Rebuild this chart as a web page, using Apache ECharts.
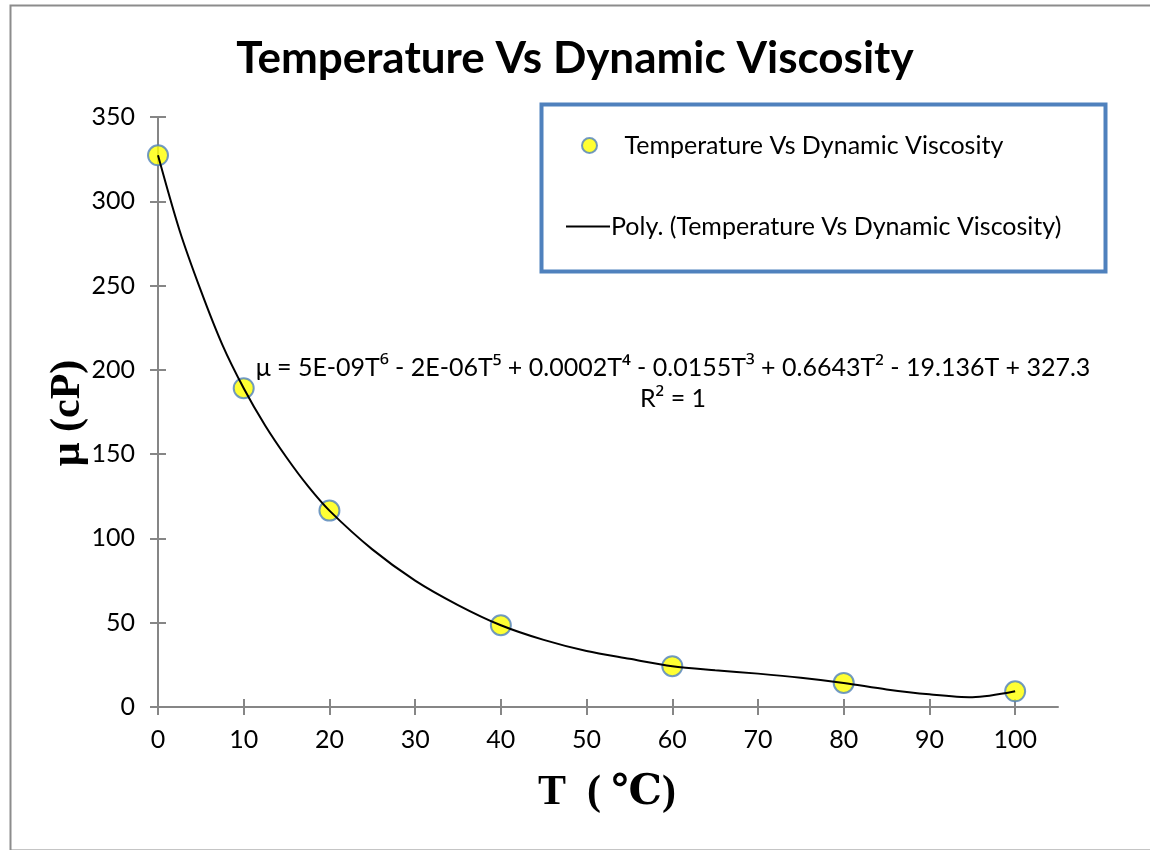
<!DOCTYPE html>
<html>
<head>
<meta charset="utf-8">
<script src="https://cdn.jsdelivr.net/npm/echarts@6/dist/echarts.min.js"></script>
<style>html,body{margin:0;padding:0;background:#fff}#c{width:1150px;height:850px}</style>
</head>
<body>
<div id="c"></div>
<script>
const titleText = 'Temperature Vs Dynamic Viscosity';
const seriesName = 'Temperature Vs Dynamic Viscosity';
const trendName = 'Poly. (Temperature Vs Dynamic Viscosity)';
const temperatures = [0, 10, 20, 40, 60, 80, 100];
const viscosities = [327.3, 189.1, 116.5, 48.5, 24.2, 14.3, 9.3];
// trendline
const trendT = [0, 2.5, 5, 7.5, 10, 12.5, 15, 17.5, 20, 25, 30, 35, 40, 45, 50, 55, 60, 65, 70, 75, 80, 85, 90, 95, 100];
const trendV = [327.3, 283, 247, 215, 189.1, 167, 148, 131, 116.5, 93.5, 75, 60.5, 48.5, 39.8, 33.2, 28.6, 24.2, 21.8, 19.8, 17.4, 14.3, 10.4, 7.5, 5.8, 9.3];
const xTicks = [0, 10, 20, 30, 40, 50, 60, 70, 80, 90, 100];
const equationParts = [
  ['μ = 5E-09T', '⁶'], [' - 2E-06T', '⁵'], [' + 0.0002T', '⁴'], [' - 0.0155T', '³'],
  [' + 0.6643T', '²'], [' - 19.136T + 327.3', '']
];
const r2Parts = [['R', '²'], [' = 1', '']];
const xAxisTitle = 'T  ( ℃)';
const yAxisTitle = 'μ (cP)';

const scatterData = temperatures.map((t, i) => [t, viscosities[i]]);
const trendData = trendT.map((t, i) => [t, trendV[i]]);
const toRich = parts => parts.map(p => p[0] + (p[1] ? '{s|' + p[1] + '}' : '')).join('');

const axisColor = '#868686';
const labelFont = 'Lato, "Open Sans", sans-serif';
const serifFont = '"Liberation Serif", "DejaVu Serif", serif';
const chart = echarts.init(document.getElementById('c'), null, {renderer: 'canvas'});

const xBase = {
  type: 'value', min: 0, max: 105, interval: 10, gridIndex: 0,
  splitLine: {show: false},
  axisLine: {onZero: false, lineStyle: {color: axisColor, width: 2}}
};
const yBase = {
  type: 'value', min: 0, max: 350, interval: 50, gridIndex: 0,
  splitLine: {show: false},
  axisLine: {onZero: false, lineStyle: {color: axisColor, width: 2}}
};
const supStyle = {fontSize: 25, fontFamily: '"Noto Sans", "DejaVu Sans", sans-serif', fill: '#000', verticalAlign: 'top'};

chart.setOption({
  animation: false,
  backgroundColor: '#fff',
  title: {
    text: titleText, left: 'center', top: 32,
    textStyle: {fontFamily: labelFont, fontWeight: 'bold', fontSize: 44, color: '#000'}
  },
  grid: {left: 158, right: 92, top: 117, bottom: 143},
  xAxis: [
    Object.assign({}, xBase, {
      position: 'bottom',
      axisTick: {show: true, length: 8, customValues: xTicks, lineStyle: {color: axisColor, width: 2}},
      axisLabel: {customValues: xTicks, margin: 20, fontSize: 25, color: '#000', fontFamily: labelFont}
    }),
    Object.assign({}, xBase, {
      position: 'bottom',
      axisLine: {show: false},
      axisTick: {show: true, inside: true, length: 8, customValues: xTicks, lineStyle: {color: axisColor, width: 2}},
      axisLabel: {show: false}
    })
  ],
  yAxis: [
    Object.assign({}, yBase, {
      position: 'left',
      axisTick: {show: true, length: 8, lineStyle: {color: axisColor, width: 2}},
      axisLabel: {margin: 23, fontSize: 25, color: '#000', fontFamily: labelFont}
    }),
    Object.assign({}, yBase, {
      position: 'left',
      axisLine: {show: false},
      axisTick: {show: true, inside: true, length: 8, lineStyle: {color: axisColor, width: 2}},
      axisLabel: {show: false}
    })
  ],
  legend: [
    {
      data: [seriesName], left: 581, top: 133, orient: 'vertical',
      itemWidth: 36, itemHeight: 15, itemGap: 0, padding: 0,
      textStyle: {fontSize: 25, color: '#000', fontFamily: labelFont, padding: [0, 0, 0, 12]}
    },
    {
      data: [{name: trendName, icon: 'rect'}], left: 566, top: 214, orient: 'vertical',
      itemWidth: 44, itemHeight: 2, itemGap: 0, padding: 0,
      textStyle: {fontSize: 25, color: '#000', fontFamily: labelFont, padding: [0, 0, 0, -4]}
    }
  ],
  series: [
    {
      name: seriesName, type: 'scatter', xAxisIndex: 0, yAxisIndex: 0,
      data: scatterData, symbol: 'circle', symbolSize: 20, z: 2,
      itemStyle: {color: '#FFFF00', borderColor: '#4F81BD', borderWidth: 2}
    },
    {
      name: trendName, type: 'line', xAxisIndex: 0, yAxisIndex: 0,
      data: trendData, smooth: 0.3, symbol: 'none', showSymbol: false, z: 3,
      lineStyle: {color: '#000', width: 2},
      itemStyle: {color: '#000'}
    }
  ],
  graphic: [
    {
      type: 'rect', left: 8, top: 3, z: -1, silent: true,
      shape: {width: 1160, height: 845},
      style: {fill: 'none', stroke: '#8c8c8c', lineWidth: 2}
    },
    {
      type: 'rect', left: 539, top: 102, silent: true,
      shape: {width: 564, height: 167},
      style: {fill: 'none', stroke: '#4F81BD', lineWidth: 4}
    },
    {
      type: 'text', x: 673, y: 368, silent: true,
      style: {text: toRich(equationParts), fontSize: 25, fontFamily: labelFont, fill: '#000', align: 'center', verticalAlign: 'middle', rich: {s: supStyle}}
    },
    {
      type: 'text', x: 673, y: 399, silent: true,
      style: {text: toRich(r2Parts), fontSize: 25, fontFamily: labelFont, fill: '#000', align: 'center', verticalAlign: 'middle', rich: {s: supStyle}}
    },
    {
      type: 'text', x: 607, y: 793, silent: true,
      style: {text: xAxisTitle, fontSize: 42, fontWeight: 'bold', fontFamily: serifFont, fill: '#000', align: 'center', verticalAlign: 'middle'}
    },
    {
      type: 'text', x: 68, y: 413, rotation: Math.PI / 2, silent: true,
      style: {text: yAxisTitle, fontSize: 42, fontWeight: 'bold', fontFamily: serifFont, fill: '#000', align: 'center', verticalAlign: 'middle'}
    }
  ]
});
</script>
</body>
</html>
